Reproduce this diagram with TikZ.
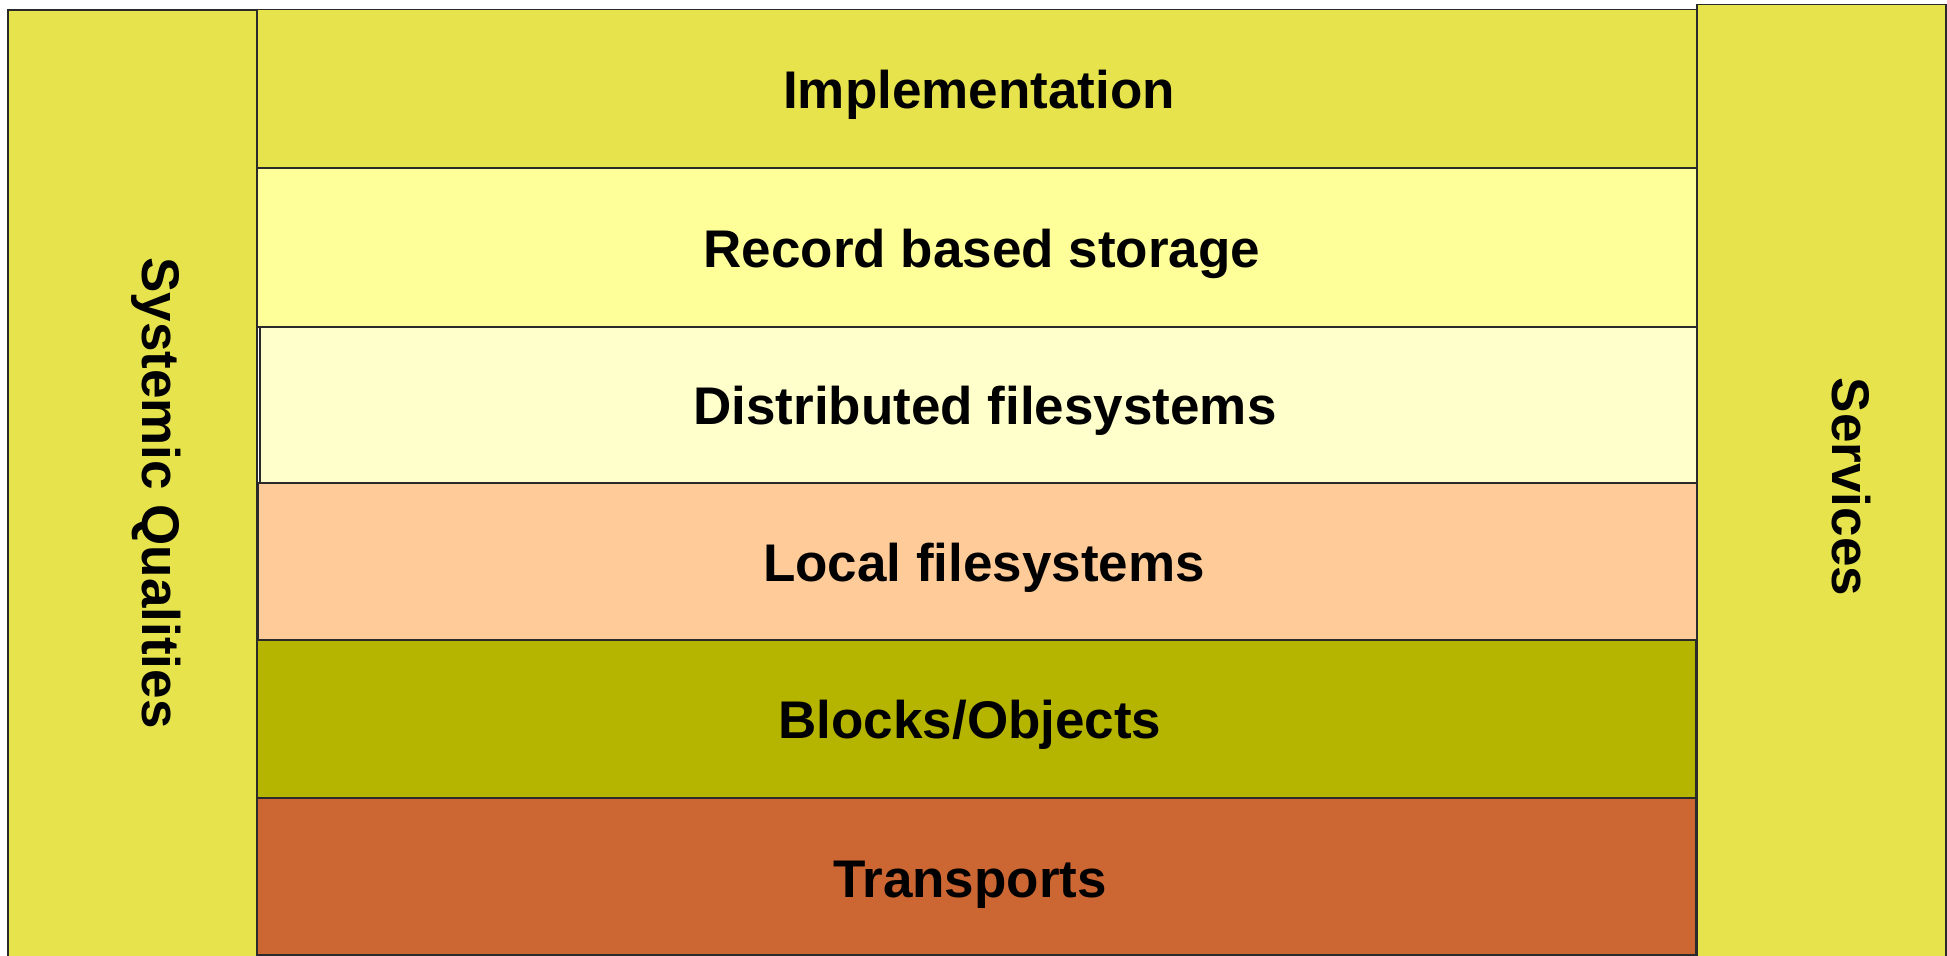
\documentclass[tikz,border=0pt]{standalone}
\usepackage{fontspec}
\setmainfont{Liberation Sans}
\definecolor{colside}{HTML}{E6E34D}
\definecolor{colrecord}{HTML}{FFFF99}
\definecolor{coldist}{HTML}{FFFFCC}
\definecolor{collocal}{HTML}{FFCC99}
\definecolor{colblocks}{HTML}{B5B500}
\definecolor{coltrans}{HTML}{CC6633}
\definecolor{edgecol}{HTML}{2A2A2A}
\begin{document}
\begin{tikzpicture}[x=1pt,y=-1pt,
  layer/.style={draw=edgecol,line width=1.2pt},
  lbl/.style={anchor=base,inner sep=0pt,font=\fontsize{53}{60}\selectfont\bfseries},
  vlbl/.style={anchor=base,inner sep=0pt,rotate=-90,font=\fontsize{53}{60}\selectfont\bfseries}]
\useasboundingbox (0,0) rectangle (1947,956);
\clip (0,0) rectangle (1947,956);
\fill[white] (0,0) rectangle (1947,956);
% left column
\draw[layer,fill=colside] (8,10) rectangle (257,970);
\coordinate (sq) at (142,493);
\node[vlbl] (systemic) at (sq) {Systemic Qualities};
% middle layers
\draw[layer,fill=colside] (257,9.5) rectangle (1697,168);
\node[lbl] (impl) at (979,108) {Implementation};
\draw[layer,fill=colrecord] (257,168) rectangle (1697,327);
\node[lbl] (record) at (982,267) {Record based storage};
\draw[layer,fill=coldist] (260,327) rectangle (1697,483);
\node[lbl] (dist) at (985,424) {Distributed filesystems};
\draw[layer,fill=collocal] (258,483) rectangle (1697,640);
\node[lbl] (local) at (984,581) {Local filesystems};
\draw[layer,fill=colblocks] (257,640) rectangle (1696,798);
\node[lbl] (blocks) at (970,738) {Blocks/Objects};
\draw[layer,fill=coltrans] (257,798) rectangle (1696,955);
\node[lbl] (trans) at (970,897) {Transports};
% right column
\draw[layer,fill=colside] (1697,4.5) rectangle (1946,970);
\node[vlbl] (services) at (1832,487) {Services};
\end{tikzpicture}
\end{document}
